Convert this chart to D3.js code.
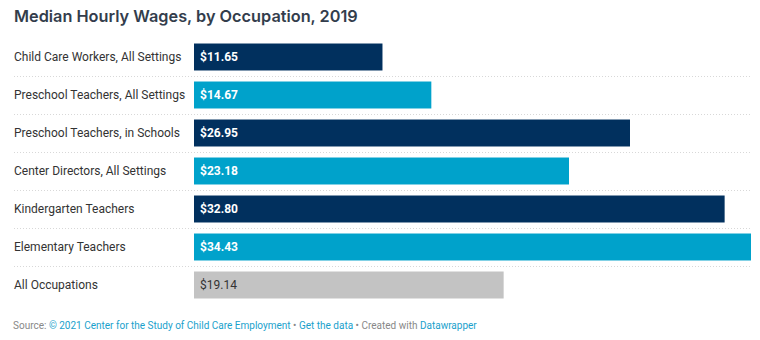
<!DOCTYPE html>
<html>
<head>
<meta charset="utf-8">
<script src="https://cdn.jsdelivr.net/npm/d3@7"></script>
<style>
  body { margin: 0; background: #fff; }
  svg text { font-family: Roboto, sans-serif; }
</style>
</head>
<body>
<div id="drawing-area" style="width:760px;height:340px"></div>
<script>
var occupations = [
    "Child Care Workers, All Settings",
    "Preschool Teachers, All Settings",
    "Preschool Teachers, in Schools",
    "Center Directors, All Settings",
    "Kindergarten Teachers",
    "Elementary Teachers",
    "All Occupations"
];
var wages = [11.65, 14.67, 26.95, 23.18, 32.80, 34.43, 19.14];
var barColors = ["#01305e", "#00a2cb", "#01305e", "#00a2cb", "#01305e", "#00a2cb", "#c3c3c3"];

var sx = 760, sy = 340;
var svg = d3.select('#drawing-area').append('svg').attr('width', sx).attr('height', sy);

// title
svg.append("text")
    .attr("x", 14).attr("y", 22)
    .style("font-family", "Inter, Roboto, sans-serif")
    .style("font-weight", 600)
    .style("font-size", "16.3px")
    .attr("fill", "#333d4c")
    .text("Median Hourly Wages, by Occupation, 2019");

var x = d3.scaleLinear().domain([0, d3.max(wages)]).range([194, 751]);
var y = d3.scaleBand().domain(occupations).range([38, 304]).paddingInner(0.29).paddingOuter(0.145);
var rowStep = y.step();

// dotted separators between rows
occupations.slice(0, -1).forEach(function (o) {
    var ly = Math.round(y(o) + y.bandwidth() + (rowStep - y.bandwidth()) / 2) + 0.5;
    svg.append("line")
        .attr("x1", 14).attr("x2", 751)
        .attr("y1", ly).attr("y2", ly)
        .attr("stroke", "#d8d8d8")
        .attr("stroke-width", 1)
        .attr("stroke-dasharray", "1,2");
});

var rows = svg.selectAll("g.row").data(occupations).enter().append("g").attr("class", "row");

rows.append("text")
    .attr("x", 14)
    .attr("y", function (d) { return y(d) + y.bandwidth() / 2; })
    .attr("dy", "0.35em")
    .attr("fill", "#333")
    .style("font-size", "12px")
    .text(function (d) { return d; });

rows.append("rect")
    .attr("x", x(0))
    .attr("y", function (d) { return y(d); })
    .attr("width", function (d, i) { return x(wages[i]) - x(0); })
    .attr("height", y.bandwidth())
    .attr("fill", function (d, i) { return barColors[i]; });

rows.append("text")
    .attr("x", x(0) + 6)
    .attr("y", function (d) { return y(d) + y.bandwidth() / 2; })
    .attr("dy", "0.35em")
    .attr("fill", function (d, i) { return i == occupations.length - 1 ? "#333" : "#fff"; })
    .style("font-weight", function (d, i) { return i == occupations.length - 1 ? 400 : 700; })
    .style("font-size", "12px")
    .text(function (d, i) { return "$" + wages[i].toFixed(2); });

// footer
var foot = svg.append("text")
    .attr("x", 13).attr("y", 329)
    .style("font-size", "10px")
    .attr("fill", "#888");
foot.append("tspan").text("Source: ");
foot.append("tspan").attr("fill", "#1aa1cc").text("© 2021 Center for the Study of Child Care Employment");
foot.append("tspan").text(" • ");
foot.append("tspan").attr("fill", "#1aa1cc").text("Get the data");
foot.append("tspan").text(" • Created with ");
foot.append("tspan").attr("fill", "#1aa1cc").text("Datawrapper");
</script>
</body>
</html>
